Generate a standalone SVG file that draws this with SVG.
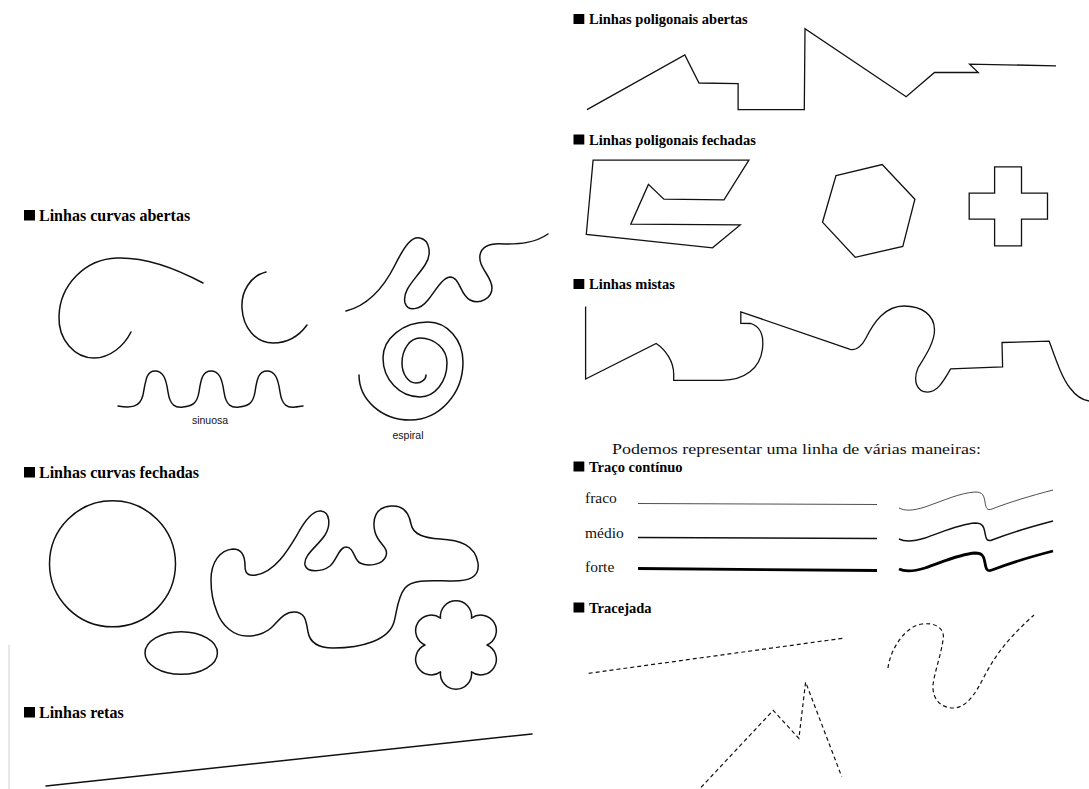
<svg xmlns="http://www.w3.org/2000/svg" width="1089" height="789" viewBox="0 0 1089 789">
<style>
.ln{fill:none;stroke:#111;stroke-width:1.5;stroke-linejoin:round;stroke-linecap:round}
.pl{fill:none;stroke:#111;stroke-width:1.3;stroke-linejoin:miter}
.ds{fill:none;stroke:#111;stroke-width:1.2;stroke-dasharray:4 3}
.sq{fill:#000}
.hdl{font-family:"Liberation Serif",serif;font-weight:bold;font-size:16px;fill:#000}
.hdr{font-family:"Liberation Serif",serif;font-weight:bold;font-size:14.5px;fill:#000}
.bt{font-family:"Liberation Serif",serif;font-size:15.5px;fill:#111}
.lb{font-family:"Liberation Sans",Arial,sans-serif;font-size:10.5px;fill:#111}
</style>
<rect width="1089" height="789" fill="#fff"/>
<line x1="9" y1="645" x2="9" y2="789" stroke="#d0d0d0" stroke-width="1"/>

<!-- Right page -->
<g id="poligonais-abertas">
  <rect class="sq" x="573.5" y="14" width="10.8" height="10"/>
  <text class="hdr" x="589" y="24">Linhas poligonais abertas</text>
  <polyline class="pl" points="587,109.6 684.8,55 699,83 738.1,83.7 738.1,109.6 804.3,109.6 805,28.7 906.2,96.8 934.5,72.5 978.3,72.5 969.6,64.1 1056,65.8"/>
</g>

<g id="poligonais-fechadas">
  <rect class="sq" x="573.5" y="134.5" width="10.8" height="10"/>
  <text class="hdr" x="589" y="144.5">Linhas poligonais fechadas</text>
  <polygon class="pl" points="593.1,160.1 748.9,160.1 724,199.9 663.9,199.2 648.4,184.4 630.8,224.2 740.2,224.9 712.5,247.8 586.3,234.3"/>
  <polygon class="pl" points="836,175.6 882.2,164.5 914.9,199.2 902.8,246.5 855.2,257.3 822.5,222.2"/>
  <polygon class="pl" points="994.6,166.8 1021.5,166.8 1021.5,193.2 1047.5,193.2 1047.5,219.1 1021.5,219.1 1021.5,245.8 994.6,245.8 994.6,219.1 969.2,219.1 969.2,193.2 994.6,193.2"/>
</g>

<g id="mistas">
  <rect class="sq" x="573.5" y="279" width="10.8" height="10"/>
  <text class="hdr" x="589" y="289">Linhas mistas</text>
  <path class="pl" d="M585.6,306.4 L585.6,379 L656.2,343.5 C666,350 673.7,362 673.7,374 L673.7,380.3 L721.9,380.3 C745,380.3 760,368 762.4,349.3 C764,337 761,327 751,323.5 L740.8,323.3 L740.8,311.8 L850.2,349.3 C856,351 862,346 866,338 C874,322 885,306 904,306 C922,306 934.5,315 934.5,330 C934.5,342 926,355 918,368 C913,380 916,392 927.7,392.1 C938,392 944,380 950.7,368.9 L1002.6,366.8 L1002,342.5 L1049.2,341.2 C1056,360 1062,378 1070,388 C1076,396 1082,400 1089,401"/>
</g>

<text class="bt" x="612" y="454" font-size="16.5" textLength="369" lengthAdjust="spacingAndGlyphs">Podemos representar uma linha de várias maneiras:</text>

<g id="traco-continuo">
  <rect class="sq" x="573.5" y="461.5" width="10.8" height="10"/>
  <text class="hdr" x="589" y="471.5">Traço contínuo</text>
  <text class="bt" x="585" y="502.5">fraco</text>
  <text class="bt" x="585" y="537.5">médio</text>
  <text class="bt" x="585" y="572">forte</text>
  <line x1="638" y1="503.5" x2="877" y2="504.5" stroke="#222" stroke-width="0.8"/>
  <line x1="638" y1="537.5" x2="877" y2="538.5" stroke="#111" stroke-width="1.5"/>
  <line x1="638" y1="568.5" x2="877" y2="570.5" stroke="#000" stroke-width="2.8"/>
  <path d="M899,508 C905,511 912,511 925,507 C945,500 960,493 975,492 C983,492 984,496 985,502 C986,508 987,511 992,509 C1010,502 1030,496 1053,490" fill="none" stroke="#222" stroke-width="0.8"/>
  <path d="M899,508 C905,511 912,511 925,507 C945,500 960,493 975,492 C983,492 984,496 985,502 C986,508 987,511 992,509 C1010,502 1030,496 1053,490" fill="none" stroke="#111" stroke-width="1.5" transform="translate(0,31)"/>
  <path d="M899,508 C905,511 912,511 925,507 C945,500 960,493 975,492 C983,492 984,496 985,502 C986,508 987,511 992,509 C1010,502 1030,496 1053,490" fill="none" stroke="#000" stroke-width="2.8" transform="translate(0,61)"/>
</g>

<g id="tracejada">
  <rect class="sq" x="573.5" y="602.5" width="10.8" height="10"/>
  <text class="hdr" x="589" y="612.5">Tracejada</text>
  <line class="ds" x1="588.7" y1="673.3" x2="843.4" y2="638.2"/>
  <polyline class="ds" points="701,787.4 773.2,710.4 798.9,738.4 805.6,682.1 841.7,776.6"/>
  <path class="ds" d="M888,668 C890,650 905,626 922,624 C940,622 945,632 943,640 C941,655 935,670 933,685 C932,700 942,708 953,708 C966,708 975,695 985,675 C998,650 1015,632 1034,615"/>
</g>

<!-- Left page -->
<g id="curvas-abertas">
  <rect class="sq" x="24" y="210" width="11" height="10.5"/>
  <text class="hdl" x="39" y="220.5">Linhas curvas abertas</text>
  <path class="ln" d="M203,283 C175,268 145,257 117,258 C85,259 60,285 59,316 C58,340 75,358 94,358 C110,358 124,346 131,332"/>
  <path class="ln" d="M266,272 C250,276 241,292 242,308 C243,328 256,343 273,343 C287,343 299,336 307,325"/>
  <path class="ln" d="M346,311 C370,305 385,285 395,265 C405,245 412,236 420,238 C430,240 432,255 425,265 C415,280 402,290 405,303 C408,312 420,310 428,300 C436,290 442,278 450,277 C460,277 460,295 470,300 C480,305 492,298 492,288 C492,276 478,268 480,255 C482,244 495,243 505,244 C520,244 535,243 548,234"/>
  <path class="ln" d="M118,406 C130,408 140,408 143,395 C146,378 147,371 155,371 C163,371 166,378 168,392 C170,406 176,408 183,407 C192,406 197,404 199,392 C201,378 203,371 211,371 C219,371 222,378 224,392 C226,406 232,408 239,407 C248,406 253,404 255,392 C257,378 259,371 267,371 C275,371 278,378 280,392 C282,406 288,408 295,407 C298,407 300,406 303,406"/>
  <text class="lb" x="210" y="424" text-anchor="middle">sinuosa</text>
  <path class="ln" d="M359,375 A51,45 0 0 0 410,420 A53,58 0 0 0 463,362 A35,40 0 0 0 428,322 A45,36 0 0 0 383,358 A37,39 0 0 0 420,397 A27,34 0 0 0 447,363 A27,25 0 0 0 420,338 A18,25 0 0 0 402,363 A14,20 0 0 0 416,383 A10,8 0 0 0 426,375"/>
  <text class="lb" x="408" y="439" text-anchor="middle">espiral</text>
</g>

<g id="curvas-fechadas">
  <rect class="sq" x="24" y="467" width="11" height="10.5"/>
  <text class="hdl" x="39" y="477.5">Linhas curvas fechadas</text>
  <circle class="ln" cx="112.5" cy="563.8" r="63"/>
  <ellipse class="ln" cx="181.2" cy="653" rx="36.2" ry="21.3"/>
  <path class="ln" d="M211,580 C211,562 220,550 233,549 C243,549 245,558 245,566 C245,575 250,576 256,575 C275,572 288,550 297,535 C305,520 313,510 321,511 C330,512 331,525 325,535 C318,546 303,555 305,565 C307,573 322,572 330,566 C337,560 339,547 346,547 C354,547 354,560 360,563 C368,567 383,565 386,556 C389,547 378,544 375,532 C372,520 375,507 391,506 C403,505 409,513 411,524 C413,535 425,538 440,539 C460,540 475,545 478,563 C480,578 468,581 453,581 C435,581 413,578 405,588 C397,598 397,612 394,622 C389,640 362,648 333,648 C318,648 310,643 308,632 C306,620 305,612 294,612 C283,612 278,622 271,628 C264,634 255,636 247,636 C234,636 222,626 217,612 C212,600 211,590 211,580 Z"/>
  <path class="ln" d="M487,645 A15.6,15.6 0 1 0 471.5,618.15 A15.6,15.6 0 1 0 440.5,618.15 A15.6,15.6 0 1 0 425,645 A15.6,15.6 0 1 0 440.5,671.85 A15.6,15.6 0 1 0 471.5,671.85 A15.6,15.6 0 1 0 487,645 Z"/>
</g>

<g id="retas">
  <rect class="sq" x="24" y="707" width="11" height="10.5"/>
  <text class="hdl" x="39" y="717.5">Linhas retas</text>
  <line class="ln" x1="46" y1="786" x2="532" y2="734"/>
</g>
</svg>
